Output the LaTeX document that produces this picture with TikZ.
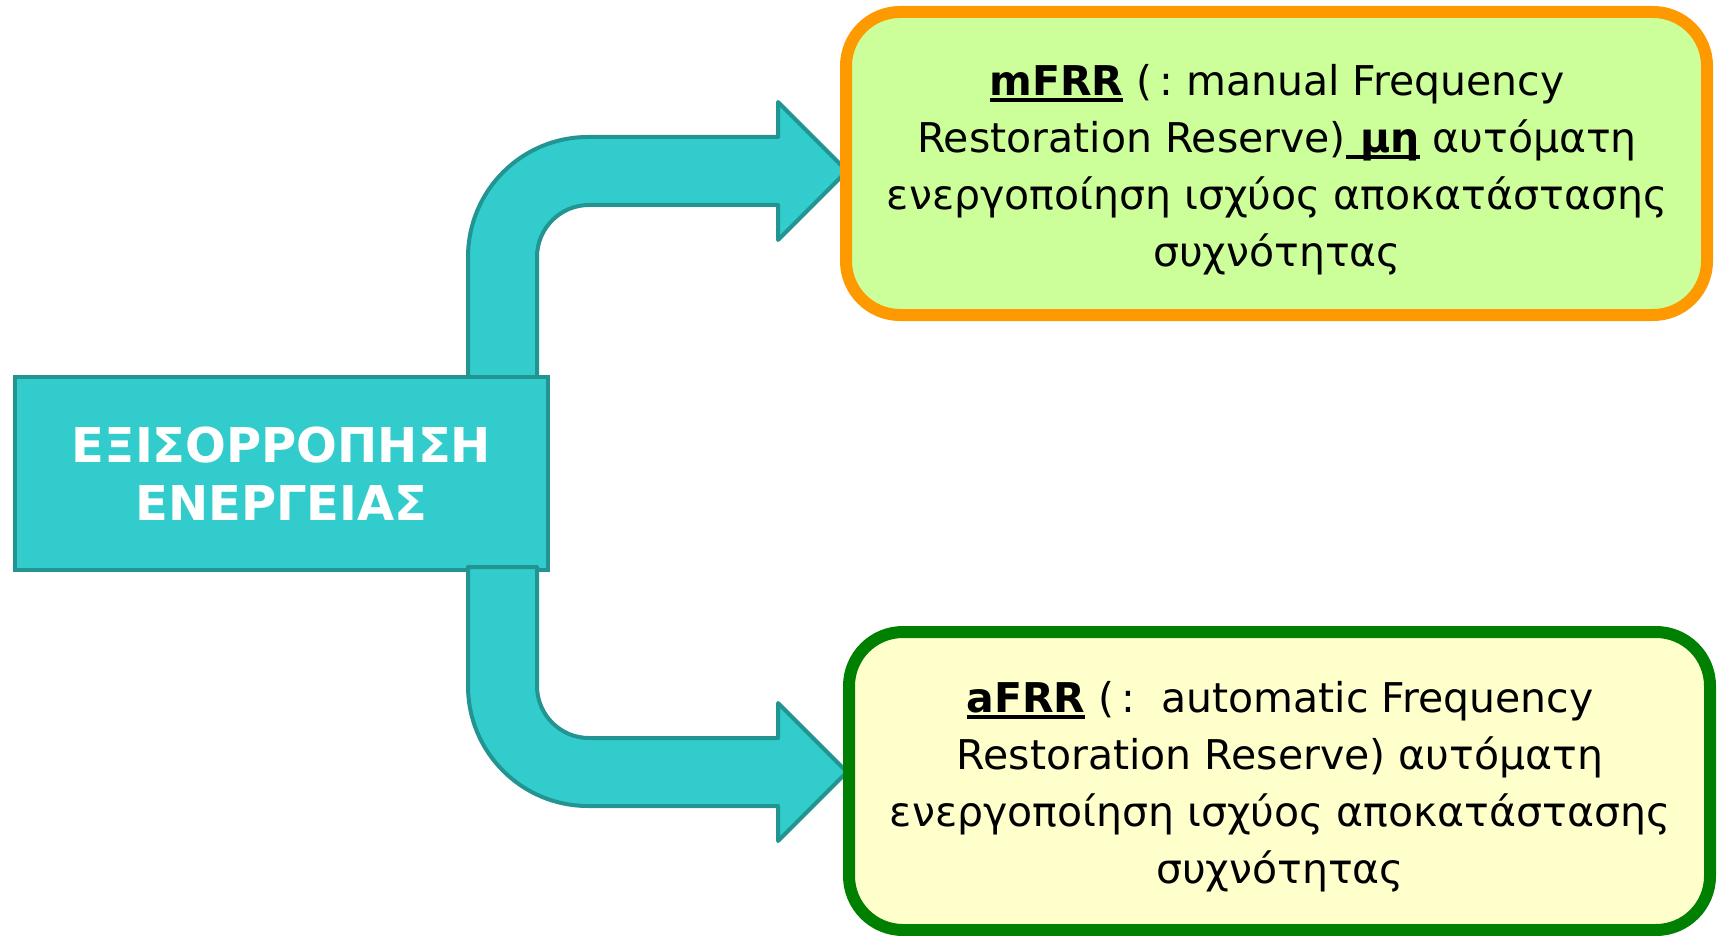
\documentclass[tikz,border=0pt]{standalone}
\usepackage{fontspec}
\setmainfont{DejaVu Sans}
\definecolor{tealfill}{RGB}{51,204,204}
\definecolor{tealline}{RGB}{34,148,146}
\definecolor{orangeline}{RGB}{255,153,0}
\definecolor{greenfill}{RGB}{204,255,153}
\definecolor{greenline}{RGB}{0,128,0}
\definecolor{yellowfill}{RGB}{255,255,204}
\newcommand{\ulword}[1]{\setbox0\hbox{#1}\rlap{\rule[-7pt]{\wd0}{4pt}}\box0\relax}
\begin{document}
\begin{tikzpicture}[x=1pt,y=-1pt,
  arrowshape/.style={fill=tealfill,draw=tealline,line width=4pt,line join=round},
  srcbox/.style={rectangle,fill=tealfill,draw=tealline,line width=4.5pt,
    minimum width=533pt,minimum height=193pt,inner sep=0pt,text=white,
    font=\fontsize{48}{58}\selectfont\bfseries,align=center},
  targetbox/.style={rectangle,rounded corners=54pt,line width=12pt,
    minimum width=861pt,inner sep=0pt},
  bodytext/.style={font=\fontsize{41}{57}\selectfont,align=center,inner sep=0pt}]
\useasboundingbox (0,0) rectangle (1721,936);
% upper arrow (behind the source box)
\path[arrowshape] (468,380) -- (468,257) .. controls (468,190.7) and (521.7,137) .. (588,137)
  -- (778,137) -- (778,102) -- (847,171) -- (778,240) -- (778,205) -- (589,205)
  .. controls (560.3,205) and (537,228.3) .. (537,257) -- (537,380) -- cycle;
\node[srcbox] (src) at (281.5,473.5) {ΕΞΙΣΟΡΡΟΠΗΣΗ\\ΕΝΕΡΓΕΙΑΣ};
% lower arrow (over the source box)
\path[arrowshape] (468,567) -- (468,686) .. controls (468,752.3) and (521.7,806) .. (588,806)
  -- (778,806) -- (778,841) -- (847,772) -- (778,703) -- (778,738) -- (589,738)
  .. controls (560.3,738) and (537,714.7) .. (537,686) -- (537,567) -- cycle;
\node[targetbox,fill=greenfill,draw=orangeline,minimum height=303pt] (mfrr) at (1276.5,163.5) {};
\node[targetbox,fill=yellowfill,draw=greenline,minimum height=298pt] (afrr) at (1279.5,781) {};
\node[bodytext] (mfrrtext) at (1277,169.5) {\ulword{\textbf{mFRR}} (\,:\ manual Frequency\\Restoration Reserve)\ulword{\textbf{\ μη}} αυτόματη\\ενεργοποίηση ισχύος αποκατάστασης\\συχνότητας};
\node[bodytext] (afrrtext) at (1280,786.5) {\ulword{\textbf{aFRR}} (\,:\ \ automatic Frequency\\Restoration Reserve) αυτόματη\\ενεργοποίηση ισχύος αποκατάστασης\\συχνότητας};
\end{tikzpicture}
\end{document}
